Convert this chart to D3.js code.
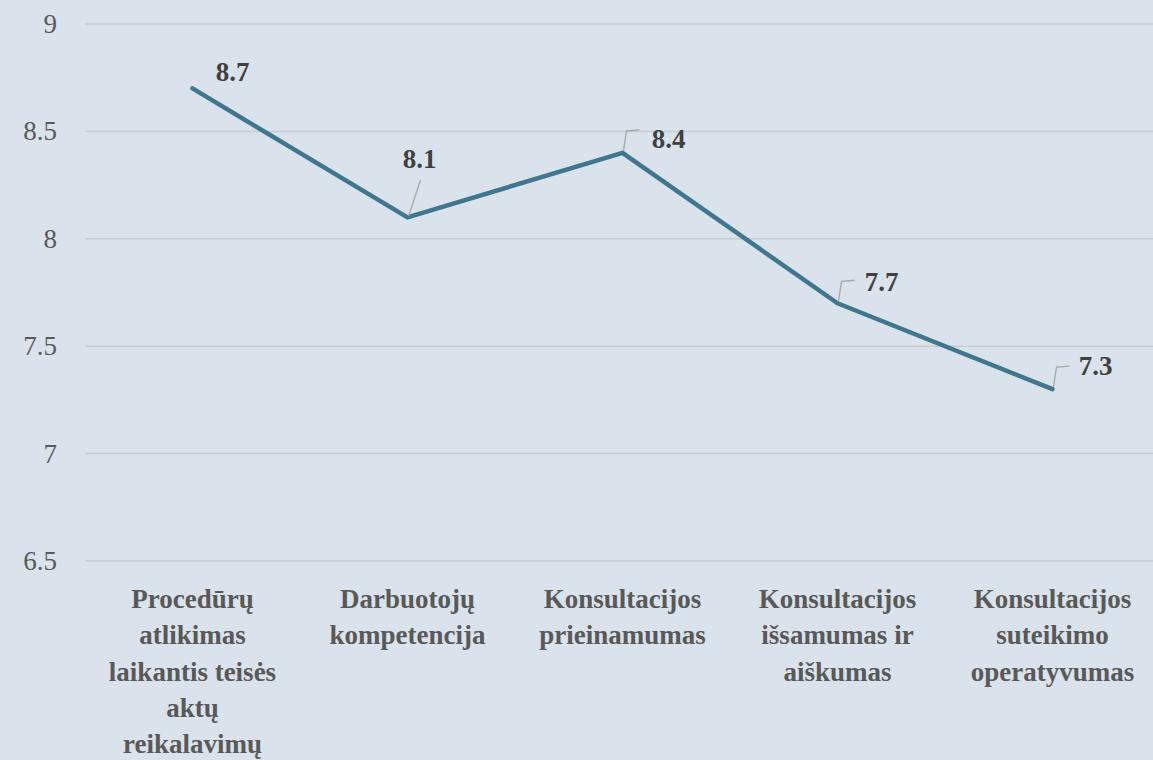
<!DOCTYPE html>
<html>
<head>
<meta charset="utf-8">
<script src="https://cdn.jsdelivr.net/npm/d3@7"></script>
</head>
<body style="margin:0">
<svg id="chart"></svg>
<script>
// data
const categories = [
    ["Procedūrų", "atlikimas", "laikantis teisės", "aktų", "reikalavimų"],
    ["Darbuotojų", "kompetencija"],
    ["Konsultacijos", "prieinamumas"],
    ["Konsultacijos", "išsamumas ir", "aiškumas"],
    ["Konsultacijos", "suteikimo", "operatyvumas"]
];
const scores = [8.7, 8.1, 8.4, 7.7, 7.3];
const yTicks = [6.5, 7, 7.5, 8, 8.5, 9];

// label placement relative to the point
const labelPos = [
    { dx: 40, dy: -7, leader: null },
    { dx: 12, dy: -49, leader: "straight" },
    { dx: 46, dy: -5, leader: "elbow" },
    { dx: 44, dy: -12, leader: "elbow" },
    { dx: 43, dy: -14, leader: "elbow" }
];

const W = 1153, H = 760;
const svg = d3.select("#chart")
    .attr("width", W)
    .attr("height", H);

// background
svg.append("rect")
    .attr("width", W)
    .attr("height", H)
    .attr("fill", "#dae3eb");

const x = d3.scaleBand()
    .domain(d3.range(categories.length))
    .range([85, 1160]);

const y = d3.scaleLinear()
    .domain([6.5, 9])
    .range([561, 24]);

// grid
svg.append("g")
    .selectAll("line")
    .data(yTicks)
    .join("line")
    .attr("x1", 85)
    .attr("x2", W)
    .attr("y1", d => y(d))
    .attr("y2", d => y(d))
    .attr("stroke", "#c8ccd0")
    .attr("stroke-width", 1.5);

// y axis labels
svg.append("g")
    .selectAll("text")
    .data(yTicks)
    .join("text")
    .attr("x", 57)
    .attr("y", d => y(d) + 9)
    .attr("text-anchor", "end")
    .attr("fill", "#595959")
    .attr("font-size", 27)
    .attr("font-family", "Liberation Serif")
    .text(d => d);

// category labels, one text per line
categories.forEach((lines, i) => {
    svg.append("g")
        .selectAll("text")
        .data(lines)
        .join("text")
        .attr("x", x(i) + x.bandwidth() / 2)
        .attr("y", (d, j) => 608 + j * 36.3)
        .attr("text-anchor", "middle")
        .attr("fill", "#595959")
        .attr("font-size", 27)
        .attr("font-weight", "bold")
        .attr("font-family", "Liberation Serif")
        .text(d => d);
});

// line
const line = d3.line()
    .x((d, i) => x(i) + x.bandwidth() / 2)
    .y(d => y(d));

svg.append("path")
    .datum(scores)
    .attr("d", line)
    .attr("fill", "none")
    .attr("stroke", "#41768f")
    .attr("stroke-width", 4.5)
    .attr("stroke-linejoin", "round")
    .attr("stroke-linecap", "round");

// leader lines
scores.forEach((v, i) => {
    const px = x(i) + x.bandwidth() / 2, py = y(v);
    const p = labelPos[i];
    if (p.leader === "straight") {
        svg.append("line")
            .attr("x1", px + 1).attr("y1", py - 1)
            .attr("x2", px + 13).attr("y2", py - 37)
            .attr("stroke", "#a6a6a6").attr("stroke-width", 1.3);
    } else if (p.leader === "elbow") {
        svg.append("path")
            .attr("d", `M${px + 1},${py - 2} L${px + 4},${py - 22} L${px + 17},${py - 23}`)
            .attr("fill", "none")
            .attr("stroke", "#a6a6a6").attr("stroke-width", 1.3);
    }
});

// data labels
svg.append("g")
    .selectAll("text")
    .data(scores)
    .join("text")
    .attr("x", (d, i) => x(i) + x.bandwidth() / 2 + labelPos[i].dx)
    .attr("y", (d, i) => y(d) + labelPos[i].dy)
    .attr("text-anchor", "middle")
    .attr("fill", "#404040")
    .attr("font-size", 27)
    .attr("font-weight", "bold")
    .attr("font-family", "Liberation Serif")
    .text(d => d.toFixed(1));
</script>
</body>
</html>
